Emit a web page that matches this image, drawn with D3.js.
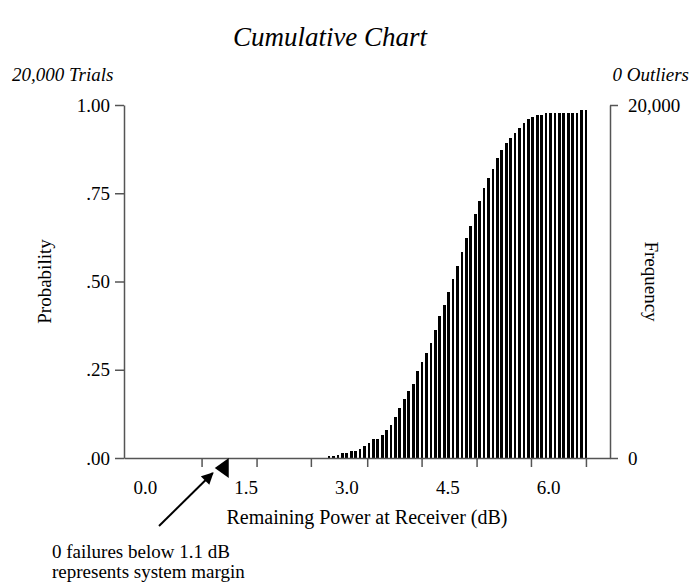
<!DOCTYPE html>
<html>
<head>
<meta charset="utf-8">
<script src="https://cdn.jsdelivr.net/npm/d3@7/dist/d3.min.js"></script>
<style>
  body { margin: 0; background: #fff; }
  svg text { font-family: "Liberation Serif", "Times New Roman", serif; fill: #000; }
</style>
</head>
<body>
<div id="chart"></div>
<script>
// bin centres (dB) and cumulative probability
var binCenters = [2.740, 2.806, 2.872, 2.938, 3.004, 3.070, 3.135, 3.201, 3.267, 3.333,
  3.399, 3.465, 3.531, 3.597, 3.663, 3.729, 3.794, 3.860, 3.926, 3.992,
  4.058, 4.124, 4.190, 4.256, 4.322, 4.388, 4.453, 4.519, 4.585, 4.651,
  4.717, 4.783, 4.849, 4.915, 4.981, 5.047, 5.112, 5.178, 5.244, 5.310,
  5.376, 5.442, 5.508, 5.574, 5.640, 5.706, 5.771, 5.837, 5.903, 5.969,
  6.035, 6.101, 6.167, 6.233, 6.299, 6.365, 6.430, 6.496, 6.562];
var cumProb = [.0065, .0065, .009, .014, .014, .020, .020, .026, .034, .042,
  .054, .054, .065, .079, .093, .116, .142, .167, .190, .210,
  .246, .272, .297, .326, .363, .402, .433, .470, .507, .544,
  .584, .623, .657, .691, .728, .765, .793, .819, .850, .873,
  .892, .907, .921, .935, .949, .960, .966, .972, .972, .977,
  .977, .977, .977, .977, .977, .977, .977, .986, .986];

var xLabelValues = [0, 1.5, 3, 4.5, 6];
var xTickMarks = [0.844, 1.662, 2.470, 3.308, 4.117, 4.935, 5.744, 6.562];
var probTicks = [0, .25, .5, .75, 1];
var freqTicks = [0, 20000];
var marginDb = 1.1;

var width = 696, height = 586;
var plotLeft = 124, plotRight = 610, plotTop = 105, plotBottom = 458;
var axisColor = "#555";

var svg = d3.select("#chart").append("svg")
  .attr("width", width)
  .attr("height", height);

var x = d3.scaleLinear().domain([-0.31, 6.92]).range([plotLeft, plotRight]);
var y = d3.scaleLinear().domain([0, 1]).range([plotBottom, plotTop]);
var yFreq = d3.scaleLinear().domain([0, 20000]).range([plotBottom, plotTop]);

var barWidth = (x(binCenters[1]) - x(binCenters[0])) * 0.62;

// bars
svg.append("g").selectAll("rect")
  .data(binCenters)
  .enter().append("rect")
  .attr("x", function (d) { return x(d) - barWidth / 2; })
  .attr("y", function (d, i) { return y(cumProb[i]); })
  .attr("width", barWidth)
  .attr("height", function (d, i) { return y(0) - y(cumProb[i]); })
  .attr("shape-rendering", "crispEdges")
  .attr("fill", "#000");

// x axis: line + unlabeled tick marks
var xAxis = svg.append("g")
  .attr("transform", "translate(0," + plotBottom + ")")
  .call(d3.axisBottom(x).tickValues(xTickMarks).tickFormat("").tickSize(9).tickSizeOuter(0));

// x labels (not on the tick marks)
var xLabels = svg.append("g")
  .attr("transform", "translate(0," + plotBottom + ")")
  .call(d3.axisBottom(x).tickValues(xLabelValues).tickFormat(d3.format(".1f")).tickSize(0).tickPadding(23));
xLabels.select(".domain").remove();

// left axis
var yAxis = svg.append("g")
  .attr("transform", "translate(" + plotLeft + ",0)")
  .call(d3.axisLeft(y).tickValues(probTicks).tickSize(9).tickPadding(5).tickSizeOuter(0)
    .tickFormat(function (d) { return d === 1 ? "1.00" : d3.format(".2f")(d).replace(/^0/, ""); }));

// right axis
var yAxisR = svg.append("g")
  .attr("transform", "translate(" + plotRight + ",0)")
  .call(d3.axisRight(yFreq).tickValues(freqTicks).tickSize(8).tickPadding(10).tickSizeOuter(0)
    .tickFormat(d3.format(",")));

[xAxis, xLabels, yAxis, yAxisR].forEach(function (g) {
  g.selectAll("path, line").attr("stroke", axisColor).attr("stroke-width", 1.5);
  g.selectAll("text").attr("font-size", 19).attr("fill", "#000")
    .style("font-family", "'Liberation Serif', serif");
});

// titles
svg.append("text")
  .attr("x", 330).attr("y", 46)
  .attr("text-anchor", "middle")
  .attr("font-size", 27).attr("font-style", "italic")
  .text("Cumulative Chart");

svg.append("text")
  .attr("x", 12).attr("y", 81)
  .attr("font-size", 19).attr("font-style", "italic")
  .text("20,000 Trials");

svg.append("text")
  .attr("x", 689).attr("y", 81)
  .attr("text-anchor", "end")
  .attr("font-size", 19).attr("font-style", "italic")
  .text("0 Outliers");

svg.append("text")
  .attr("transform", "translate(51," + (plotTop + plotBottom) / 2 + ") rotate(-90)")
  .attr("text-anchor", "middle")
  .attr("font-size", 19)
  .text("Probability");

svg.append("text")
  .attr("transform", "translate(645," + (plotTop + plotBottom) / 2 + ") rotate(90)")
  .attr("text-anchor", "middle")
  .attr("font-size", 19)
  .text("Frequency");

svg.append("text")
  .attr("x", (plotLeft + plotRight) / 2).attr("y", 524)
  .attr("text-anchor", "middle")
  .attr("font-size", 20)
  .text("Remaining Power at Receiver (dB)");

// margin marker + annotation
var mx = x(marginDb) - 4;
svg.append("path")
  .attr("d", "M" + mx + "," + (plotBottom + 10) + "L" + (mx + 14) + "," + plotBottom + "L" + (mx + 14) + "," + (plotBottom + 20) + "Z")
  .attr("fill", "#000");

svg.append("defs").append("marker")
  .attr("id", "head")
  .attr("viewBox", "0 0 10 10")
  .attr("refX", 9).attr("refY", 5)
  .attr("markerWidth", 14).attr("markerHeight", 12)
  .attr("markerUnits", "userSpaceOnUse")
  .attr("orient", "auto")
  .append("path")
  .attr("d", "M0,0L10,5L0,10Z")
  .attr("fill", "#000");

svg.append("line")
  .attr("x1", 159).attr("y1", 526)
  .attr("x2", mx - 2).attr("y2", plotBottom + 15)
  .attr("stroke", "#000").attr("stroke-width", 2)
  .attr("marker-end", "url(#head)");

svg.append("text")
  .attr("x", 52).attr("y", 558)
  .attr("font-size", 19)
  .text("0 failures below 1.1 dB");

svg.append("text")
  .attr("x", 52).attr("y", 578)
  .attr("font-size", 19)
  .text("represents system margin");
</script>
</body>
</html>
